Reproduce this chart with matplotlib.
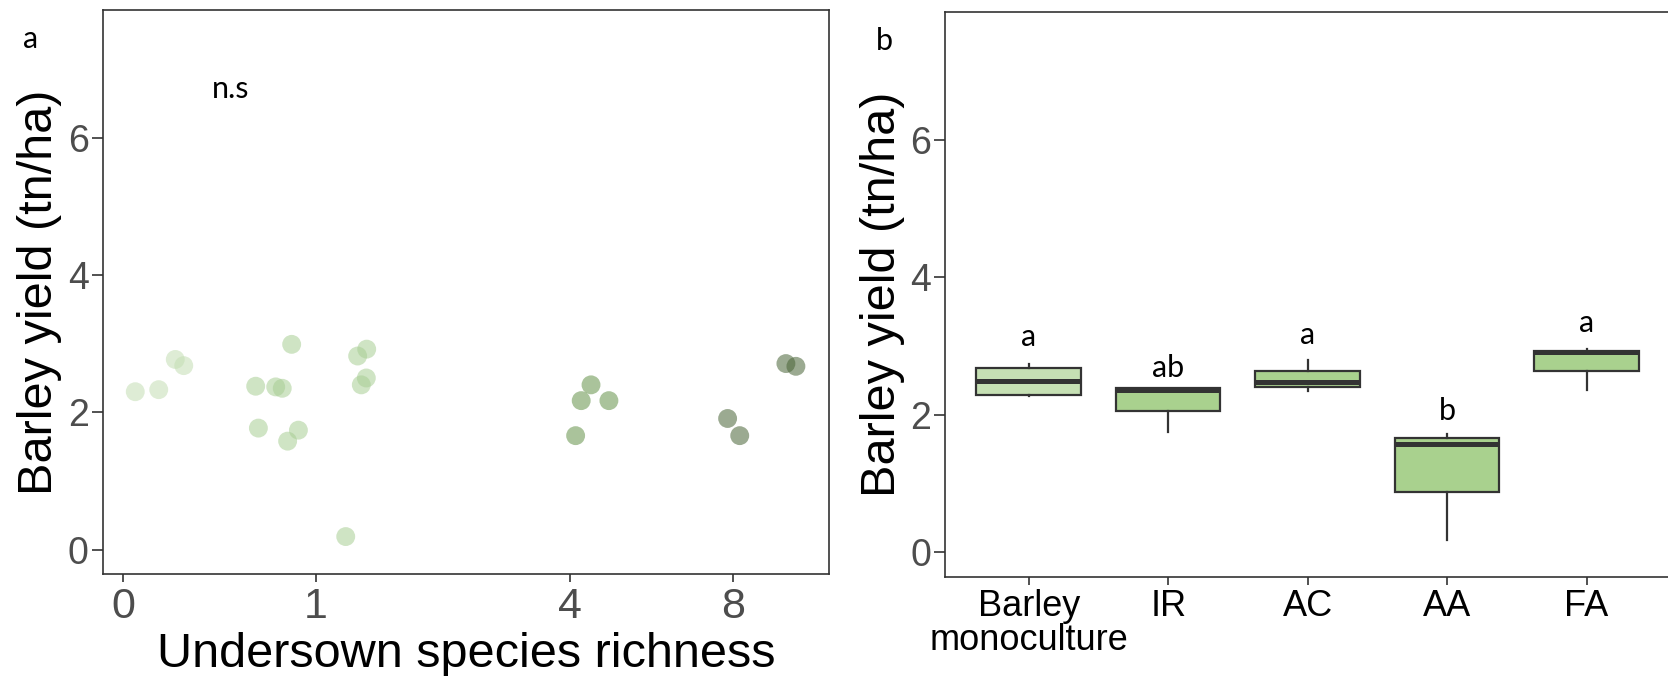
import numpy as np
import matplotlib
matplotlib.use('Agg')
import matplotlib.pyplot as plt

plt.rcParams['font.family'] = ['Liberation Sans', 'DejaVu Sans']

# panel a: yield vs undersown richness (x shown on log2(richness + 1) scale, jittered)
RICHNESS_LEVELS = [0, 1, 4, 8]
rich0_x = [0.062, 0.184, 0.270, 0.314]
rich0_y = [2.30, 2.33, 2.77, 2.68]
rich1_x = [0.688, 0.792, 0.826, 0.875, 0.702, 0.854, 0.910, 1.156, 1.218, 1.265, 1.263, 1.237]
rich1_y = [2.38, 2.37, 2.35, 2.99, 1.77, 1.58, 1.74, 0.19, 2.82, 2.92, 2.50, 2.40]
rich4_x = [2.431, 2.380, 2.524, 2.351]
rich4_y = [2.40, 2.17, 2.17, 1.66]
rich8_x = [3.444, 3.496, 3.141, 3.204]
rich8_y = [2.71, 2.67, 1.91, 1.66]
GROUP_COLORS = ['#C3DEB3', '#A8CE94', '#649249', '#496437']

# panel b: box stats per treatment
TREATMENTS = ['Barley\nmonoculture', 'IR', 'AC', 'AA', 'FA']
whislo = [2.27, 1.75, 2.34, 0.18, 2.36]
q1 = [2.29, 2.05, 2.40, 0.87, 2.63]
med = [2.49, 2.36, 2.48, 1.57, 2.91]
q3 = [2.68, 2.38, 2.64, 1.66, 2.93]
whishi = [2.74, 2.38, 2.79, 1.71, 2.95]
LETTERS = ['a', 'ab', 'a', 'b', 'a']
LETTER_Y = [3.00, 2.54, 3.03, 1.92, 3.20]
BOX_FILLS = ['#C6E0B4', '#A9D18E', '#A9D18E', '#A9D18E', '#A9D18E']

EDGE = '#333333'
TICK_GREY = '#4D4D4D'
NOTE_FONT = ['Lato', 'DejaVu Sans']

fig = plt.figure(figsize=(16.68, 6.76), dpi=100)

# ---- panel a ----
ax1 = fig.add_axes([0.0616, 0.1504, 0.4354, 0.8348])
groups = [(rich0_x, rich0_y), (rich1_x, rich1_y), (rich4_x, rich4_y), (rich8_x, rich8_y)]
for (gx, gy), col in zip(groups, GROUP_COLORS):
    ax1.scatter(gx, gy, s=185, color=col, alpha=0.55, edgecolors='none', zorder=3)
ax1.set_xlim(-0.107, 3.668)
ax1.set_ylim(-0.36, 7.86)
ax1.set_xticks(np.log2(np.array(RICHNESS_LEVELS) + 1))
ax1.set_xticklabels([str(r) for r in RICHNESS_LEVELS])
ax1.set_yticks([0, 2, 4, 6])
ax1.tick_params(axis='x', length=6, width=1.2, color=EDGE, labelsize=31,
                labelcolor=TICK_GREY, pad=3)
ax1.tick_params(axis='y', length=8, width=1.2, color=EDGE, labelsize=27,
                labelcolor=TICK_GREY, pad=2)
ax1.set_xlabel('Undersown species richness', fontsize=35, labelpad=4)
ax1.set_ylabel('Barley yield (tn/ha)', fontsize=35, labelpad=4)
ax1.text(0.46, 6.58, 'n.s', fontsize=22, family=NOTE_FONT, ha='left', va='baseline')

# ---- panel b ----
ax2 = fig.add_axes([0.5666, 0.1469, 0.4347, 0.8353])
stats = []
for i in range(len(TREATMENTS)):
    stats.append(dict(whislo=whislo[i], q1=q1[i], med=med[i], q3=q3[i],
                      whishi=whishi[i], fliers=[]))
bp = ax2.bxp(stats, positions=range(1, len(TREATMENTS) + 1), widths=0.75,
             patch_artist=True, showfliers=False, showcaps=False,
             boxprops=dict(edgecolor=EDGE, linewidth=1.6),
             medianprops=dict(color=EDGE, linewidth=3.6, solid_capstyle='butt'),
             whiskerprops=dict(color=EDGE, linewidth=1.6))
for patch, fc in zip(bp['boxes'], BOX_FILLS):
    patch.set_facecolor(fc)
for i, (lab, ly) in enumerate(zip(LETTERS, LETTER_Y)):
    ax2.text(i + 1, ly, lab, fontsize=22, family=NOTE_FONT, ha='center', va='baseline')
ax2.set_xlim(0.4, 5.6)
ax2.set_ylim(-0.36, 7.86)
ax2.set_xticks(range(1, len(TREATMENTS) + 1))
ax2.set_xticklabels(TREATMENTS, linespacing=0.95)
ax2.set_yticks([0, 2, 4, 6])
ax2.tick_params(axis='x', length=6, width=1.2, color=EDGE, labelsize=26,
                labelcolor='black', pad=3)
ax2.tick_params(axis='y', length=8, width=1.2, color=EDGE, labelsize=27,
                labelcolor=TICK_GREY, pad=2)
ax2.set_ylabel('Barley yield (tn/ha)', fontsize=35, labelpad=4)

for ax in (ax1, ax2):
    for sp in ax.spines.values():
        sp.set_color(EDGE)
        sp.set_linewidth(1.2)

fig.text(23 / 1668, 1 - 48 / 676, 'a', fontsize=22, family=NOTE_FONT, va='baseline')
fig.text(876 / 1668, 1 - 50 / 676, 'b', fontsize=22, family=NOTE_FONT, va='baseline')

fig.savefig('out.png', dpi=100)
